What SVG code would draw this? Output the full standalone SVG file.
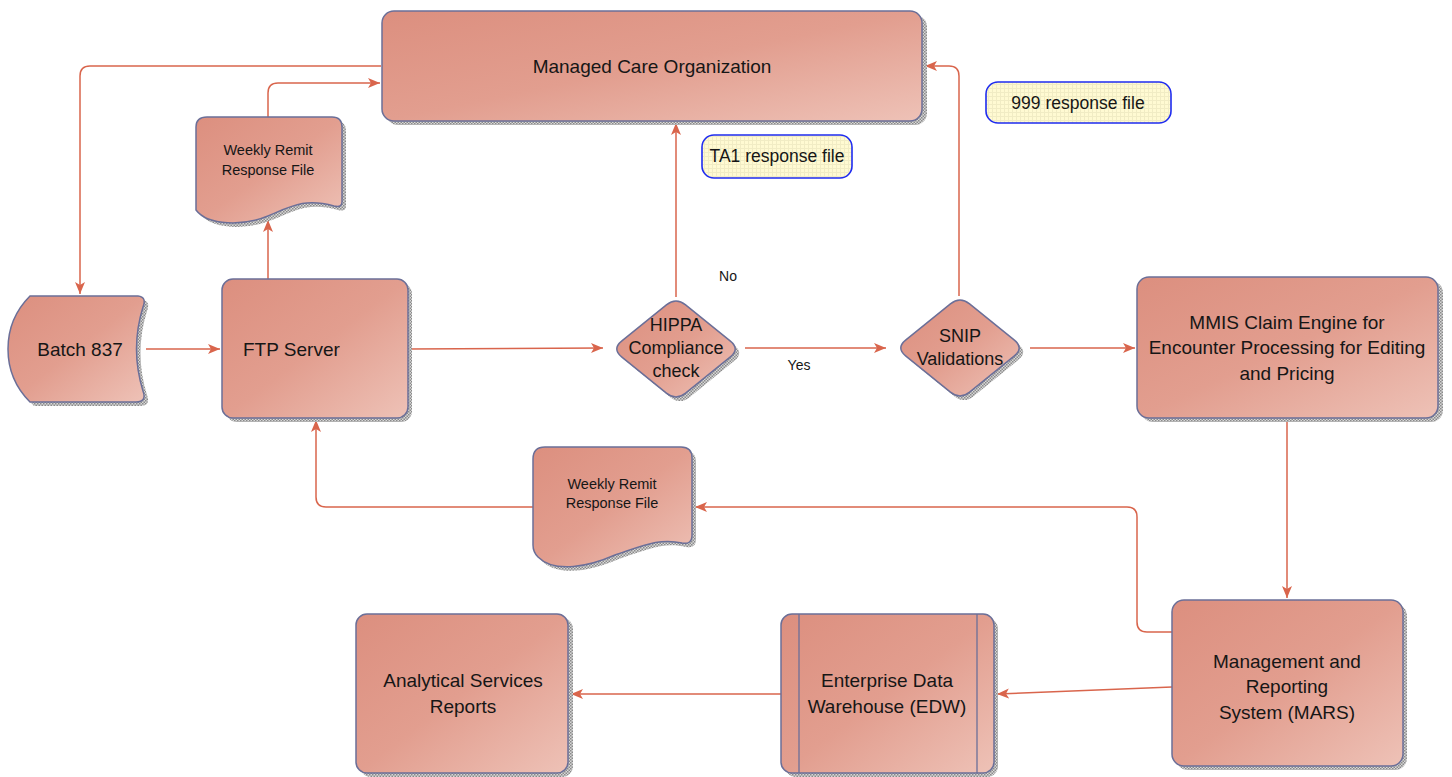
<svg xmlns="http://www.w3.org/2000/svg" width="1452" height="777" viewBox="0 0 1452 777">
<defs>
  <linearGradient id="fillG" x1="0" y1="0" x2="1" y2="1">
    <stop offset="0" stop-color="#dc8f7f"/>
    <stop offset="0.5" stop-color="#e29e8f"/>
    <stop offset="1" stop-color="#eec2b7"/>
  </linearGradient>
  <pattern id="hatch" width="3" height="3" patternUnits="userSpaceOnUse">
    <rect width="3" height="3" fill="#d8d8d8"/>
    <rect width="1.5" height="1.5" fill="#8a8a8a"/>
    <rect x="1.5" y="1.5" width="1.5" height="1.5" fill="#8a8a8a"/>
  </pattern>
  <pattern id="grid" width="4" height="4" patternUnits="userSpaceOnUse">
    <rect width="4" height="4" fill="#fffad2"/>
    <path d="M0 0.5H4M0.5 0V4" stroke="#f1ecc4" stroke-width="1"/>
  </pattern>
  <marker id="arr" markerUnits="userSpaceOnUse" markerWidth="13" markerHeight="11" refX="12" refY="5" orient="auto">
    <path d="M0 0 L12 5 L0 10 L3 5 Z" fill="#d9654c"/>
  </marker>
  <path id="dia" d="M -54.4 -7.8 L -9.6 -44.2 Q 0 -52 9.6 -44.2 L 54.4 -7.8 Q 64 0 54.4 7.8 L 9.6 44.2 Q 0 52 -9.6 44.2 L -54.4 7.8 Q -64 0 -54.4 -7.8 Z"/>
</defs>
<style>
  .sh { fill: url(#hatch); stroke: none; }
  .nd { fill: url(#fillG); stroke: #6b6f98; stroke-width: 1.5; }
  .t { font-family: "Liberation Sans", Arial, sans-serif; fill: #161616; text-anchor: middle; }
  .t19 { font-size: 19px; }
  .t18 { font-size: 18px; }
  .t14 { font-size: 14.5px; }
  .lbl { fill: url(#grid); stroke: #1f2cf0; stroke-width: 1.6; }
  .c { fill: none; stroke: #d9654c; stroke-width: 1.5; marker-end: url(#arr); }
  .cn { fill: none; stroke: #d9654c; stroke-width: 1.5; }
</style>
<rect width="1452" height="777" fill="#ffffff"/>

<g id="connectors">
  <path class="c" d="M381 66 H90 Q80 66 80 76 V294"/>
  <path class="c" d="M146 349 H220"/>
  <path class="c" d="M268 279 V220"/>
  <path class="c" d="M268 117 V93 Q268 83 278 83 H380"/>
  <path class="c" d="M408 349 L603 348"/>
  <path class="c" d="M676 297 V123"/>
  <path class="c" d="M745 348 H886"/>
  <path class="c" d="M959 296 V76 Q959 66 949 66 H925"/>
  <path class="c" d="M1030 348 H1135"/>
  <path class="c" d="M1287 418 V598"/>
  <path class="c" d="M1172 632 H1147 Q1137 632 1137 622 V517 Q1137 507 1127 507 H695"/>
  <path class="c" d="M533 507 H326 Q316 507 316 497 V420"/>
  <path class="c" d="M1172 687 L997 694"/>
  <path class="c" d="M781 694 H571"/>
</g>

<g id="mco">
  <rect class="sh" x="386" y="15" width="541" height="110" rx="12"/>
  <rect class="nd" x="382" y="11" width="540" height="110" rx="12"/>
  <text class="t t19" x="652" y="73">Managed Care Organization</text>
</g>

<g id="batch837">
  <path class="sh" transform="translate(4,4)" d="M30 296 H138 Q147 297 143 307 Q130 349 143 391 Q147 402 136 402 H30 Q8 380 8 349 Q8 318 30 296 Z"/>
  <path class="nd" d="M30 296 H138 Q147 297 143 307 Q130 349 143 391 Q147 402 136 402 H30 Q8 380 8 349 Q8 318 30 296 Z"/>
  <text class="t t19" x="80" y="356">Batch 837</text>
</g>

<g id="ftp">
  <rect class="sh" x="226" y="283" width="186" height="139" rx="11"/>
  <rect class="nd" x="222" y="279" width="186" height="139" rx="11"/>
  <text class="t t19" x="243" y="356" style="text-anchor:start">FTP Server</text>
</g>

<g id="weekly-top">
  <path class="sh" transform="translate(4,4)" d="M207 117 H332 Q342 117 342 127 V202 Q342 208 334 206 C305 198 292 206 268 216 C244 226 208 226 196 210 V127 Q196 117 207 117 Z"/>
  <path class="nd" d="M207 117 H332 Q342 117 342 127 V202 Q342 208 334 206 C305 198 292 206 268 216 C244 226 208 226 196 210 V127 Q196 117 207 117 Z"/>
  <text class="t t14" x="268" y="155">Weekly Remit</text>
  <text class="t t14" x="268" y="175">Response File</text>
</g>

<g id="hippa">
  <use href="#dia" class="sh" transform="translate(680,353)"/>
  <use href="#dia" class="nd" transform="translate(676,349)"/>
  <text class="t t18" x="676" y="331">HIPPA</text>
  <text class="t t18" x="676" y="354">Compliance</text>
  <text class="t t18" x="676" y="377">check</text>
</g>

<g id="snip">
  <use href="#dia" class="sh" transform="translate(964,352)"/>
  <use href="#dia" class="nd" transform="translate(960,348)"/>
  <text class="t t18" x="960" y="342">SNIP</text>
  <text class="t t18" x="960" y="365">Validations</text>
</g>

<g id="mmis">
  <rect class="sh" x="1141" y="281" width="302" height="141" rx="12"/>
  <rect class="nd" x="1137" y="277" width="301" height="141" rx="12"/>
  <text class="t t19" x="1287" y="329">MMIS Claim Engine for</text>
  <text class="t t19" x="1287" y="354">Encounter Processing for Editing</text>
  <text class="t t19" x="1287" y="380">and Pricing</text>
</g>

<g id="mars">
  <rect class="sh" x="1176" y="604" width="231" height="166" rx="12"/>
  <rect class="nd" x="1172" y="600" width="231" height="166" rx="12"/>
  <text class="t t19" x="1287" y="668">Management and</text>
  <text class="t t19" x="1287" y="693">Reporting</text>
  <text class="t t19" x="1287" y="719">System (MARS)</text>
</g>

<g id="edw">
  <rect class="sh" x="785" y="618" width="213" height="159" rx="11"/>
  <rect class="nd" x="781" y="614" width="213" height="159" rx="11"/>
  <line x1="799" y1="614" x2="799" y2="773" stroke="#6b6f98" stroke-width="1.3"/>
  <line x1="977" y1="614" x2="977" y2="773" stroke="#6b6f98" stroke-width="1.3"/>
  <text class="t t19" x="887" y="687">Enterprise Data</text>
  <text class="t t19" x="887" y="713">Warehouse (EDW)</text>
</g>

<g id="analytical">
  <rect class="sh" x="360" y="618" width="213" height="159" rx="11"/>
  <rect class="nd" x="356" y="614" width="212" height="159" rx="11"/>
  <text class="t t19" x="463" y="687">Analytical Services</text>
  <text class="t t19" x="463" y="713">Reports</text>
</g>

<g id="weekly-bottom">
  <path class="sh" transform="translate(4,4)" d="M545 447 H681 Q692 447 692 458 V535 Q692 545 682 543 C660 538 645 545 615 555 C590 566 555 574 538 557 Q533 552 533 545 V459 Q533 447 545 447 Z"/>
  <path class="nd" d="M545 447 H681 Q692 447 692 458 V535 Q692 545 682 543 C660 538 645 545 615 555 C590 566 555 574 538 557 Q533 552 533 545 V459 Q533 447 545 447 Z"/>
  <text class="t t14" x="612" y="489">Weekly Remit</text>
  <text class="t t14" x="612" y="508">Response File</text>
</g>

<g id="ta1-label">
  <rect class="lbl" x="702" y="135" width="150" height="43" rx="12"/>
  <text class="t" style="font-size:17.5px" x="777" y="162">TA1 response file</text>
</g>

<g id="r999-label">
  <rect class="lbl" x="986" y="82" width="185" height="41" rx="12"/>
  <text class="t" style="font-size:17.5px" x="1078" y="109">999 response file</text>
</g>

<g id="edge-labels">
  <text class="t" style="font-size:14px" x="728" y="281">No</text>
  <text class="t" style="font-size:14px" x="799" y="370">Yes</text>
</g>
</svg>
